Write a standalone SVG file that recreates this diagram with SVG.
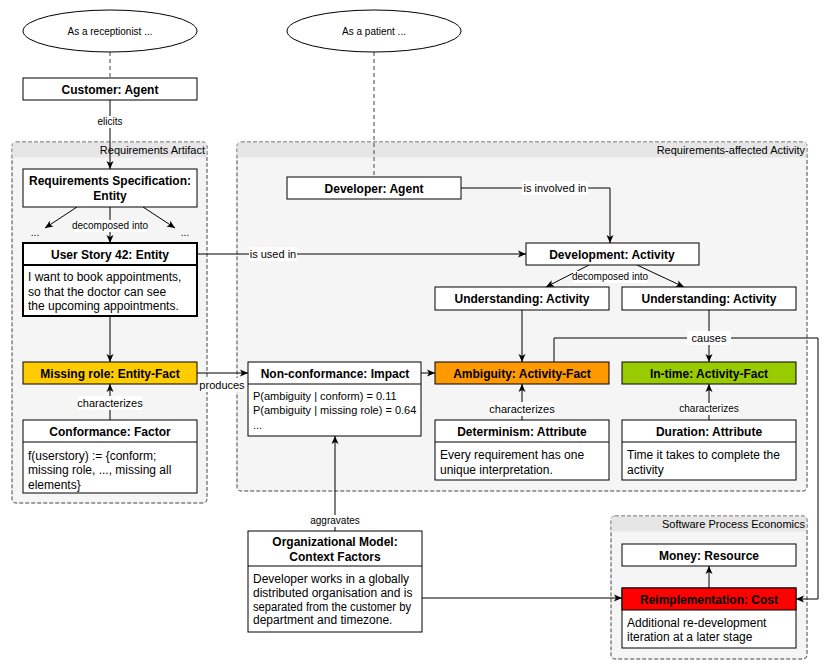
<svg xmlns="http://www.w3.org/2000/svg" width="830" height="671" viewBox="0 0 830 671">
<style>
text{font-family:"Liberation Sans",Arial,sans-serif;fill:#000}
.t{font-size:12px;font-weight:bold;text-anchor:middle}
.b{font-size:12px}
.b11{font-size:11px}
.l11{font-size:11px;text-anchor:middle}
.l10{font-size:10px;text-anchor:middle}
.g{font-size:11px;text-anchor:end}
.box{fill:#fff;stroke:#000;stroke-width:1}
.grp{fill:#f5f5f5;stroke:#444;stroke-dasharray:4 2}
.hdr{fill:#e6e6e6}
.c{fill:none;stroke:#000;stroke-width:1}
.a{marker-end:url(#ar)}
.d{stroke:#444;stroke-dasharray:4 3}
.lb{fill:#fff}
</style>
<defs>
<marker id="ar" markerUnits="userSpaceOnUse" markerWidth="10" markerHeight="10" viewBox="0 0 10 10" refX="9" refY="5" orient="auto">
<path d="M1,1.5 L9,5 L1,8.5 L3,5 z" fill="#000"/>
</marker>
</defs>
<rect width="830" height="671" fill="#fff"/>

<g id="group-requirements-artifact">
<rect class="grp" x="12" y="142" width="195" height="361" rx="4"/>
<rect class="hdr" x="12.5" y="142.5" width="194" height="15"/>
<text class="g" x="205" y="154">Requirements Artifact</text>
</g>
<g id="group-requirements-affected-activity">
<rect class="grp" x="237" y="142" width="570" height="349" rx="4"/>
<rect class="hdr" x="237.5" y="142.5" width="569" height="15"/>
<text class="g" x="805" y="154">Requirements-affected Activity</text>
</g>
<g id="group-software-process-economics">
<rect class="grp" x="611" y="516" width="196" height="143" rx="4"/>
<rect class="hdr" x="611.5" y="516.5" width="195" height="15"/>
<text class="g" x="805" y="528">Software Process Economics</text>
</g>

<g id="connectors">
<path class="c d" d="M110,52 V78"/>
<path class="c d" d="M374,52 V177"/>
<path class="c a" d="M110,100 V169"/>
<rect class="lb" x="95" y="116" width="30" height="12"/>
<text class="l10" x="110" y="125">elicits</text>
<path class="c a" d="M77,207 L45,228"/>
<path class="c a" d="M143,207 L175,228"/>
<path class="c a" d="M110,207 V243"/>
<rect class="lb" x="73" y="220" width="74" height="12"/>
<text class="l10" x="110" y="229">decomposed into</text>
<path class="c a" d="M197,254 H526"/>
<rect class="lb" x="249" y="247" width="48" height="14"/>
<text class="l11" x="273" y="258">is used in</text>
<path class="c a" d="M461,188 H610 V243"/>
<rect class="lb" x="522" y="181" width="66" height="14"/>
<text class="l11" x="555" y="192">is involved in</text>
<path class="c a" d="M589,265 L546,287"/>
<path class="c a" d="M637,265 L684,287"/>
<rect class="lb" x="573" y="271" width="74" height="12"/>
<text class="l10" x="610" y="280">decomposed into</text>
<path class="c a" d="M110,316 V362"/>
<path class="c a" d="M110,420 V384"/>
<rect class="lb" x="78" y="396" width="64" height="14"/>
<text class="l11" x="110" y="407">characterizes</text>
<path class="c a" d="M197,373 H248"/>
<rect class="lb" x="199" y="378" width="46" height="14"/>
<text class="l11" x="222" y="389">produces</text>
<path class="c a" d="M421,373 H435"/>
<path class="c a" d="M522,310 V362"/>
<path class="c a" d="M709,310 V362"/>
<path class="c a" d="M522,420 V384"/>
<rect class="lb" x="490" y="402" width="64" height="14"/>
<text class="l11" x="522" y="413">characterizes</text>
<path class="c a" d="M709,420 V384"/>
<rect class="lb" x="681" y="403" width="56" height="12"/>
<text class="l10" x="709" y="412">characterizes</text>
<path class="c a" d="M554,362 V338 H818 V599 H796"/>
<rect class="lb" x="687" y="331" width="44" height="14"/>
<text class="l11" x="709" y="342">causes</text>
<path class="c a" d="M335,531 V436"/>
<rect class="lb" x="311" y="515" width="48" height="12"/>
<text class="l10" x="335" y="524">aggravates</text>
<path class="c a" d="M422,598 H622"/>
<path class="c a" d="M709,588 V566"/>
</g>

<g id="ellipse-receptionist">
<ellipse class="box" cx="110" cy="31" rx="87" ry="21"/>
<text class="l10" x="110" y="35">As a receptionist ...</text>
</g>
<g id="ellipse-patient">
<ellipse class="box" cx="374" cy="31" rx="87" ry="21"/>
<text class="l10" x="374" y="35">As a patient ...</text>
</g>
<g id="customer">
<rect class="box" x="23" y="78" width="174" height="22"/>
<text class="t" x="110" y="93.5">Customer: Agent</text>
</g>
<g id="reqspec">
<rect class="box" x="23" y="169" width="174" height="38"/>
<text class="t" x="110" y="185">Requirements Specification:</text>
<text class="t" x="110" y="200">Entity</text>
</g>
<g id="dots">
<text class="l10" x="35" y="236">...</text>
<text class="l10" x="185" y="236">...</text>
</g>
<g id="userstory">
<rect class="box" x="23" y="243" width="174" height="73" style="stroke-width:2"/>
<line x1="23" y1="265" x2="197" y2="265" stroke="#000" stroke-width="2"/>
<text class="t" x="110" y="258.5">User Story 42: Entity</text>
<text class="b" x="28" y="281">I want to book appointments,</text>
<text class="b" x="28" y="296">so that the doctor can see</text>
<text class="b" x="28" y="310">the upcoming appointments.</text>
</g>
<g id="missingrole">
<rect class="box" x="23" y="362" width="174" height="22" style="fill:#ffcc00"/>
<text class="t" x="110" y="377.5">Missing role: Entity-Fact</text>
</g>
<g id="conformance">
<rect class="box" x="23" y="420" width="174" height="73"/>
<line x1="23" y1="442" x2="197" y2="442" stroke="#000"/>
<text class="t" x="110" y="435.5">Conformance: Factor</text>
<text class="b" x="28" y="460">f(userstory) := {conform;</text>
<text class="b" x="28" y="474">missing role, ..., missing all</text>
<text class="b" x="28" y="489">elements}</text>
</g>
<g id="developer">
<rect class="box" x="287" y="177" width="174" height="22"/>
<text class="t" x="374" y="192.5">Developer: Agent</text>
</g>
<g id="development">
<rect class="box" x="526" y="243" width="173" height="22"/>
<text class="t" x="612" y="258.5">Development: Activity</text>
</g>
<g id="understanding1">
<rect class="box" x="435" y="287" width="174" height="23"/>
<text class="t" x="522" y="303">Understanding: Activity</text>
</g>
<g id="understanding2">
<rect class="box" x="622" y="287" width="174" height="23"/>
<text class="t" x="709" y="303">Understanding: Activity</text>
</g>
<g id="ambiguity">
<rect class="box" x="435" y="362" width="174" height="22" style="fill:#ff9900"/>
<text class="t" x="522" y="377.5">Ambiguity: Activity-Fact</text>
</g>
<g id="intime">
<rect class="box" x="622" y="362" width="174" height="22" style="fill:#99cc00"/>
<text class="t" x="709" y="377.5">In-time: Activity-Fact</text>
</g>
<g id="determinism">
<rect class="box" x="435" y="420" width="174" height="60"/>
<line x1="435" y1="442" x2="609" y2="442" stroke="#000"/>
<text class="t" x="522" y="435.5">Determinism: Attribute</text>
<text class="b" x="440" y="459">Every requirement has one</text>
<text class="b" x="440" y="474">unique interpretation.</text>
</g>
<g id="duration">
<rect class="box" x="622" y="420" width="174" height="60"/>
<line x1="622" y1="442" x2="796" y2="442" stroke="#000"/>
<text class="t" x="709" y="435.5">Duration: Attribute</text>
<text class="b" x="627" y="459">Time it takes to complete the</text>
<text class="b" x="627" y="474">activity</text>
</g>
<g id="nonconformance">
<rect class="box" x="248" y="362" width="173" height="74"/>
<line x1="248" y1="384" x2="421" y2="384" stroke="#000"/>
<text class="t" x="335" y="377.5">Non-conformance: Impact</text>
<text class="b11" x="253" y="400">P(ambiguity | conform) = 0.11</text>
<text class="b11" x="253" y="414">P(ambiguity | missing role) = 0.64</text>
<text class="b11" x="253" y="429">...</text>
</g>
<g id="orgmodel">
<rect class="box" x="248" y="531" width="174" height="101"/>
<line x1="248" y1="566" x2="422" y2="566" stroke="#000"/>
<text class="t" x="335" y="546">Organizational Model:</text>
<text class="t" x="335" y="561">Context Factors</text>
<text class="b" x="253" y="583">Developer works in a globally</text>
<text class="b" x="253" y="597">distributed organisation and is</text>
<text class="b" x="253" y="611" textLength="158" lengthAdjust="spacingAndGlyphs">separated from the customer by</text>
<text class="b" x="253" y="624">department and timezone.</text>
</g>
<g id="money">
<rect class="box" x="622" y="544" width="174" height="22"/>
<text class="t" x="709" y="559.5">Money: Resource</text>
</g>
<g id="reimplementation">
<rect class="box" x="622" y="588" width="174" height="60"/>
<rect x="622" y="588" width="174" height="22" style="fill:#ff0000;stroke:#000"/>
<text class="t" x="709" y="603.5">Reimplementation: Cost</text>
<text class="b" x="627" y="627">Additional re-development</text>
<text class="b" x="627" y="641">iteration at a later stage</text>
</g>
</svg>
